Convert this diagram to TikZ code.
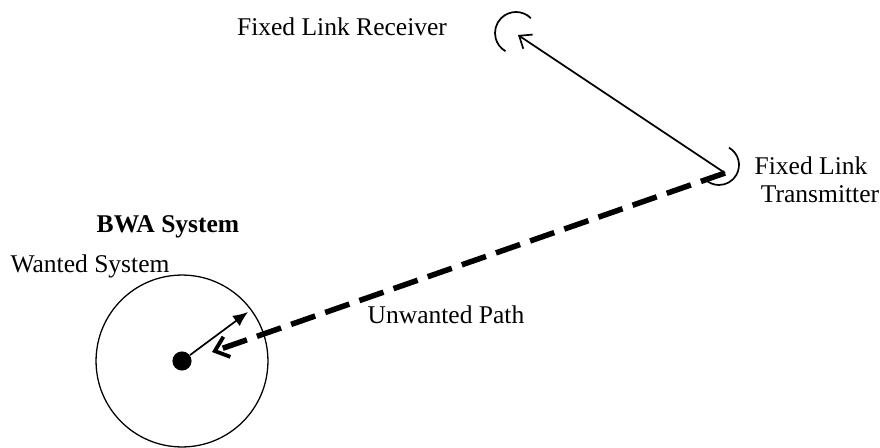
\documentclass[tikz,border=0pt]{standalone}
\usepackage{fontspec}
\setmainfont{Liberation Serif}
\usetikzlibrary{arrows.meta}
\tikzset{
    %Define standard arrow tip
    >={Straight Barb[length=5pt,width=8pt]},
    %Define style for texts
    txt/.style={
           font=\fontsize{12}{14}\selectfont,
           anchor=base,
           inner sep=0pt},
    %Define style for the coverage area and the station
    cell/.style={
           circle,
           draw=black, line width=0.6pt,
           inner sep=0pt,
           minimum size=80.8pt},
    station/.style={
           circle,
           fill=black,
           inner sep=0pt,
           minimum size=9pt},
    %Define style for antennas
    dish/.style={
           line width=0.8pt},
    % Define arrow styles
    link/.style={
           ->,
           line width=0.8pt},
    wanted/.style={
           -{Latex[length=7pt,width=6pt]},
           line width=0.8pt},
    unwanted/.style={
           -{Straight Barb[length=6pt,width=10pt,line width=1.8pt]},
           line width=2.6pt,
           dash pattern=on 12pt off 5pt}
}
\begin{document}
\begin{tikzpicture}[x=0.47pt,y=0.47pt]
\useasboundingbox (0,0) rectangle (880,447);
% BWA system
\node[cell](cell) at (182,86){};
\node[station](bs) at (182,86){};
\coordinate (ws) at (248,135);
\coordinate (rxbs) at (212,95);
% fixed link
\coordinate (rx) at (518,412);
\coordinate (tx) at (725,274);
\draw[dish] (516,414) ++(45:21) arc (45:240:21);
\draw[dish] (719,282) ++(60:20) arc (60:-135:20);
\draw[link] (tx) -- (rx);
\draw[unwanted] (tx) -- (rxbs);
\draw[wanted] (bs) -- (ws);
% texts
\node[txt] at (342,412){Fixed Link Receiver};
\node[txt] at (811,273){Fixed Link};
\node[txt] at (820,245){Transmitter};
\node[txt,font=\fontsize{12}{14}\selectfont\bfseries] at (168,215){BWA System};
\node[txt] at (90,175){Wanted System};
\node[txt] at (446,124){Unwanted Path};
\end{tikzpicture}
\end{document}
